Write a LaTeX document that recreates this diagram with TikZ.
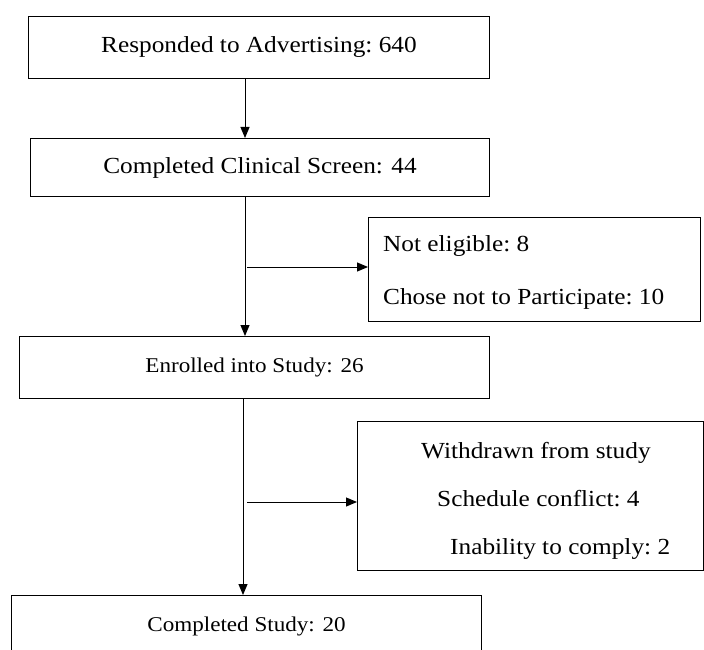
\documentclass[tikz,border=0pt]{standalone}
\usepackage{fontspec}
\setmainfont[FakeStretch=1.1]{Liberation Serif}
\usetikzlibrary{arrows.meta}
\begin{document}
\begin{tikzpicture}[x=1pt,y=-1pt,
  box/.style={draw, line width=1pt, inner sep=0pt, anchor=north west, font=\fontsize{23}{27}\selectfont},
  smallbox/.style={box, font=\fontsize{21}{25}\selectfont},
  txt/.style={inner sep=0pt, anchor=north west, align=left},
  arr/.style={line width=1pt, -{Triangle[length=11pt,width=9pt]}},
  ln/.style={line width=1pt}]
\clip (0,0) rectangle (704,650);
\fill[white] (0,0) rectangle (704,650);
% boxes
\node[box, minimum width=461pt, minimum height=62pt] (b1) at (28,16) {Responded to Advertising:\ 640};
\node[box, minimum width=459pt, minimum height=58pt] (b2) at (30,138) {Completed Clinical Screen: 44};
\node[box, minimum width=332pt, minimum height=104pt] (b4) at (368,217) {};
\node[smallbox, minimum width=470pt, minimum height=62pt] (b3) at (19,336) {Enrolled into Study: 26};
\node[box, minimum width=346pt, minimum height=149pt] (b6) at (357,421) {};
\node[smallbox, minimum width=470pt, minimum height=62pt] (b7) at (11,595) {Completed Study: 20};
% texts of side boxes
\node[txt, anchor=west, font=\fontsize{23}{53}\selectfont] (t4) at (383,272)
  {Not eligible:\ 8\\Chose not to Participate:\ 10};
\node[txt, anchor=west, font=\fontsize{23}{48}\selectfont] (t6) at (421,501)
  {Withdrawn\ from study\\\hspace*{16pt}Schedule conflict:\ 4\\\hspace*{29pt}Inability to comply:\ 2};
% connector coordinates
\coordinate (x1) at (245,0);
\coordinate (x2) at (243,0);
\coordinate (br1) at (247,267);
\coordinate (br2) at (247,502);
% connectors
\draw[arr] (b1.south -| x1) -- (b2.north -| x1);
\draw[arr] (b2.south -| x1) -- (b3.north -| x1);
\draw[arr] (b3.south -| x2) -- (b7.north -| x2);
\draw[arr] (br1) -- (b4.west |- br1);
\draw[arr] (br2) -- (b6.west |- br2);
\end{tikzpicture}
\end{document}
